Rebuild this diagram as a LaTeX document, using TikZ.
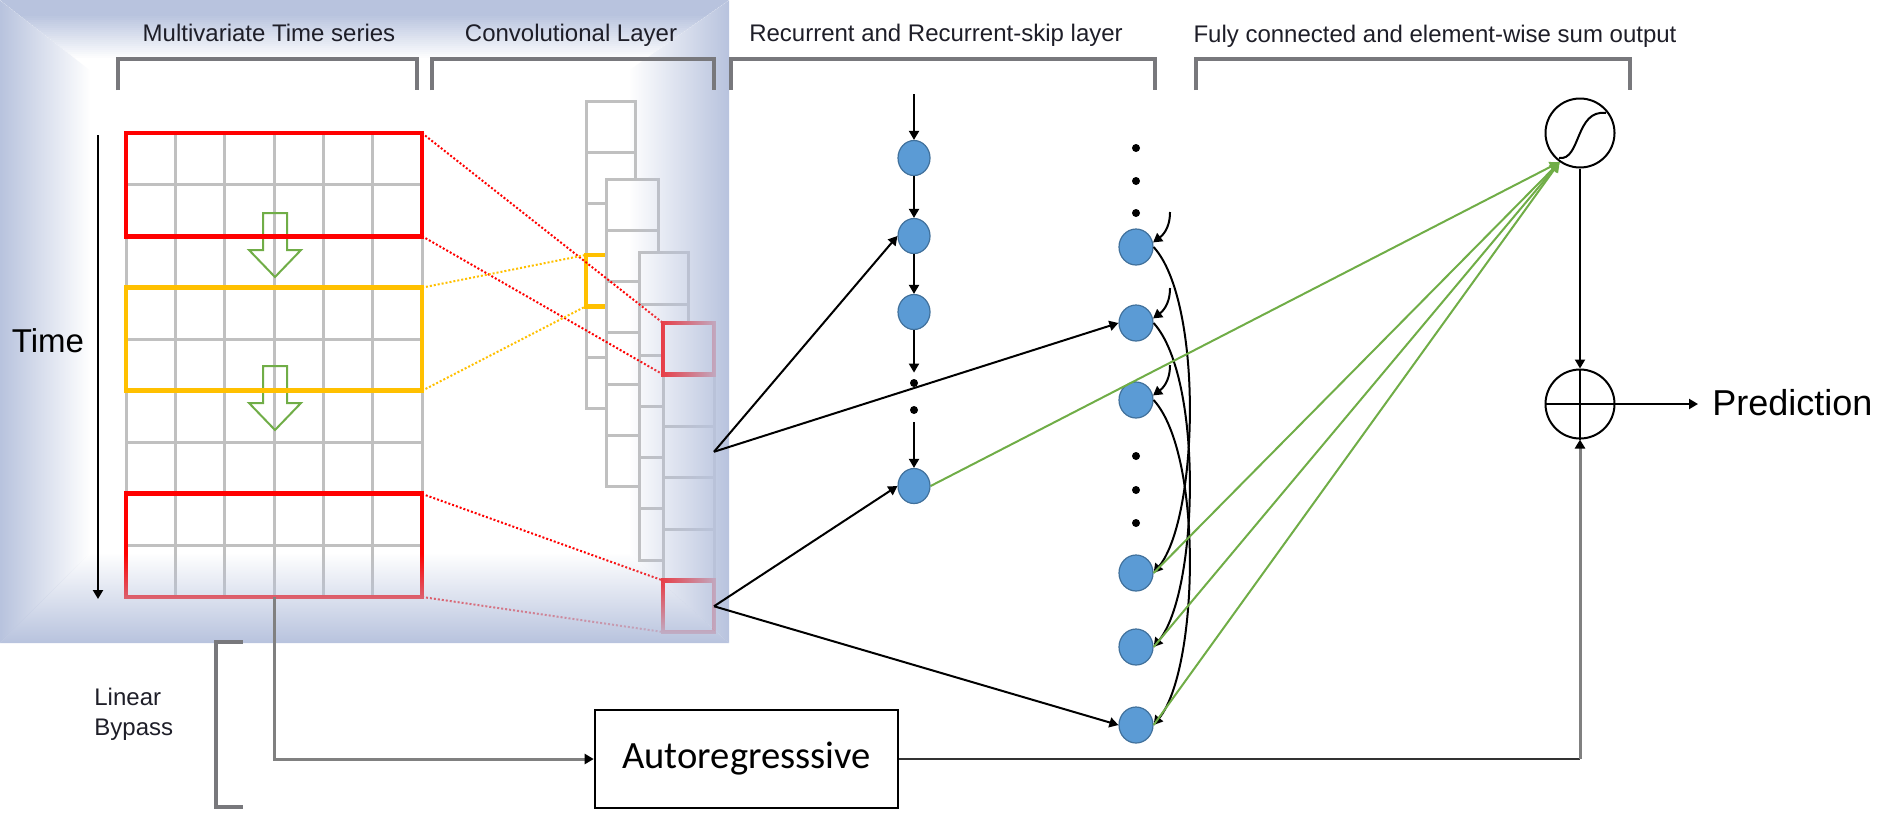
\documentclass[tikz,border=0pt]{standalone}
\usepackage{fontspec}
\setmainfont{Liberation Sans}
\newfontfamily\calib{Carlito}
\usetikzlibrary{arrows.meta,shapes.geometric,fadings}
\definecolor{panel}{RGB}{184,195,222}
\definecolor{gridgray}{RGB}{192,192,192}
\definecolor{ygold}{RGB}{255,192,0}
\definecolor{gline}{RGB}{112,173,71}
\definecolor{nfill}{RGB}{91,155,213}
\definecolor{nline}{RGB}{65,113,156}
\definecolor{brgray}{RGB}{120,120,124}
\definecolor{txt}{RGB}{30,30,40}
\definecolor{redc}{RGB}{255,0,0}
\tikzfading[name=fadeR, left color=transparent!0, right color=transparent!100]
\tikzfading[name=fadeL, left color=transparent!100, right color=transparent!0]
\tikzfading[name=fadeU, top color=transparent!100, bottom color=transparent!0]
\tikzset{
  gridline/.style={draw=gridgray, line width=1.5pt},
  cellbox/.style={rectangle, draw=gridgray, fill=white, line width=1.5pt, inner sep=0pt, outer sep=0pt, minimum width=24.5pt, minimum height=25.65pt},
  winbox/.style={rectangle, line width=2.4pt, inner sep=0pt, outer sep=0pt, minimum width=148pt, minimum height=51.55pt},
  blockarrow/.style={draw=gline, line width=1pt},
  dotline/.style={line width=1pt, densely dotted},
  bracket/.style={draw=brgray, line width=2pt},
  head/.style={font=\fontsize{12}{14}\selectfont, text=txt, anchor=base, inner sep=0pt},
  rnode/.style={ellipse, fill=nfill, draw=nline, line width=0.6pt, inner sep=0pt, minimum width=16pt, minimum height=17.5pt},
  snode/.style={ellipse, fill=nfill, draw=nline, line width=0.6pt, inner sep=0pt, minimum width=17pt, minimum height=18pt},
  bdot/.style={circle, fill=black, inner sep=0pt, minimum size=4pt},
  arr/.style={draw=black, line width=1pt, -{Triangle[length=4.5pt,width=5pt]}},
  garr/.style={draw=gline, line width=1pt, -{Triangle[length=5pt,width=5pt]}},
  opnode/.style={circle, draw=black, line width=1pt, inner sep=0pt, minimum size=34.5pt},
}
\begin{document}
\begin{tikzpicture}[x=0.5pt,y=-0.5pt]
\useasboundingbox (0,0) rectangle (1883,831);
% panel base
\fill[white] (0,0) rectangle (729,643);
% top bevel strip drawn as bands (nothing lies under it)
\foreach \k in {0,...,34} {
  \pgfmathsetmacro\ya{2*\k}
  \pgfmathsetmacro\yb{2*\k+2.6}
  \pgfmathsetmacro\p{max(0,min(100,100*(58-2*\k)/44))}
  \fill[panel!\p!white] ({90*\ya/70},\ya) -- ({729-100*\ya/70},\ya) -- ({729-100*\yb/70},\yb) -- ({90*\yb/70},\yb) -- cycle;
}
% multivariate grid
\foreach \i in {0,...,6} \draw[gridline] ({126+\i*49.333},133) -- ({126+\i*49.333},597);
\foreach \j in {0,...,9} \draw[gridline] (126,{133+\j*51.556}) -- (422,{133+\j*51.556});
% green block arrows
\draw[blockarrow] (263,213) -- (287,213) -- (287,250) -- (301,250) -- (275,277) -- (249,250) -- (263,250) -- cycle;
\draw[blockarrow] (263,366) -- (287,366) -- (287,403) -- (301,403) -- (275,430) -- (249,403) -- (263,403) -- cycle;
% windows
\node[winbox, draw=redc] (w1) at (274,184.6) {};
\node[winbox, draw=ygold] (yw) at (274,339.2) {};
\node[winbox, draw=redc] (w2) at (274,545.4) {};
% convolutional columns
\foreach \i in {0,...,5} \node[cellbox] (a\i) at (610.5,{101+51.3*(\i+0.5)}) {};
\node[cellbox, fill=none, draw=ygold, line width=2.4pt] (ya) at (a3) {};
\foreach \i in {0,...,5} \node[cellbox, minimum width=26pt] (b\i) at (632,{179+51.3*(\i+0.5)}) {};
\foreach \i in {0,...,5} \node[cellbox] (c\i) at (664,{253+51.2*(\i+0.5)}) {};
\foreach \i in {0,...,5} \node[cellbox, minimum width=25.5pt, minimum height=25.75pt] (d\i) at (688.5,{323+51.5*(\i+0.5)}) {};
\draw[redc, line width=2.4pt] (d0.north west) rectangle (d0.south east);
\draw[redc, line width=2.4pt] (d5.north west) rectangle (d5.south east);
% dotted projections
\draw[dotline, redc] (w1.north east) -- (d0.north west);
\draw[dotline, redc] (w1.south east) -- (d0.south west);
\draw[dotline, ygold] (yw.north east) -- (ya.north west);
\draw[dotline, ygold] (yw.south east) -- (ya.south west);
\draw[dotline, redc] (w2.north east) -- (d5.north west);
\draw[dotline, redc] (w2.south east) -- (d5.south west);
% bevel overlay
\fill[panel, path fading=fadeR] (0,0) -- (90,70) -- (90,553) -- (0,643) -- cycle;
\fill[panel, path fading=fadeL] (729,0) -- (729,643) -- (629,553) -- (629,70) -- cycle;
\fill[panel, path fading=fadeU] (0,643) -- (90,553) -- (629,553) -- (729,643) -- cycle;
% brackets
\draw[bracket] (118,90) -- (118,59) -- (417,59) -- (417,90);
\draw[bracket] (432,90) -- (432,59) -- (714,59) -- (714,90);
\draw[bracket] (731,90) -- (731,59) -- (1155,59) -- (1155,90);
\draw[bracket] (1196,90) -- (1196,59) -- (1630,59) -- (1630,90);
\draw[bracket] (243,642) -- (216,642) -- (216,807) -- (243,807);
% headers
\node[head] (h1) at (269,41) {Multivariate Time series};
\node[head] (h2) at (571,41) {Convolutional Layer};
\node[head] (h3) at (936,41) {Recurrent and Recurrent-skip layer};
\node[head] (h4) at (1435,42) {Fuly connected and element-wise sum output};
% time axis
\node[font=\fontsize{16.5}{18}\selectfont, anchor=base, inner sep=0pt] (tl) at (48,352) {Time};
\coordinate (t0) at (98,135);
\coordinate (t1) at (98,599);
\draw[arr] (t0) -- (t1);
% recurrent column
\node[rnode] (n1) at (914,158) {};
\node[rnode] (n2) at (914,236) {};
\node[rnode] (n3) at (914,312) {};
\node[bdot] (da) at (914,383) {};
\node[bdot] (db) at (914,410) {};
\node[rnode] (n4) at (914,486) {};
\coordinate (ntop) at (914,94);
\draw[arr] (ntop) -- (n1);
\draw[arr] (n1) -- (n2);
\draw[arr] (n2) -- (n3);
\draw[arr, shorten >=3pt] (n3) -- (da);
\draw[arr, shorten <=4pt] (db) -- (n4);
% skip column
\foreach \y/\nm in {148/e1,181/e2,213/e3,456/e4,490/e5,523/e6} \node[bdot] (\nm) at (1136,\y) {};
\foreach \y/\nm in {247/s1,323/s2,400/s3,573/s4,647/s5,725/s6} \node[snode] (\nm) at (1136,\y) {};
\foreach \nm/\y in {s1/247,s2/323,s3/400} {
  \coordinate (\nm i) at (1170,{\y-35});
  \draw[arr] (\nm i) .. controls +(0,18) and +(8,-6) .. (\nm.15);
}
\draw[arr] (s1.east) .. controls +(50,55) and +(45,-55) .. (s4.east);
\draw[arr] (s2.east) .. controls +(50,55) and +(45,-55) .. (s5.east);
\draw[arr] (s3.east) .. controls +(50,55) and +(45,-55) .. (s6.east);
% conv -> recurrent
\draw[arr] (d2.east) -- (n2.west);
\draw[arr] (d2.east) -- (s2.west);
\draw[arr] (d5.east) -- (n4.west);
\draw[arr] (d5.east) -- (s6.west);
% output
\node[opnode] (sig) at (1580,133) {};
\draw[line width=1pt] (1559,158) .. controls (1581,161) and (1575,109) .. (1606,113);
\coordinate (sigin) at (sig.235);
\draw[garr] (n4.east) -- (sigin);
\draw[garr] (s4.east) -- (sigin);
\draw[garr] (s5.east) -- (sigin);
\draw[garr] (s6.east) -- (sigin);
\node[opnode] (sumn) at (1580,404) {};
\draw[line width=1pt] (sumn.north) -- (sumn.south);
\draw[line width=1pt] (sumn.west) -- (sumn.east);
\draw[arr] (sig.south) -- (sumn.north);
\node[font=\fontsize{18}{20}\selectfont, anchor=base west, inner sep=0pt] (pred) at (1712,415) {Prediction};
\draw[arr] (sumn.east) -- ([xshift=-7pt]sumn.east -| pred.west);
% autoregressive bypass
\node[draw=black, line width=1.3pt, minimum width=151.5pt, minimum height=49pt, inner sep=0pt, font=\calib\fontsize{19.3}{22}\selectfont] (ar) at (746.5,759) {Autoregresssive};
\node[anchor=base west, inner sep=0pt, font=\fontsize{12}{14}\selectfont, text=txt] (lb1) at (94,705) {Linear};
\node[anchor=base west, inner sep=0pt, font=\fontsize{12}{14}\selectfont, text=txt] (lb2) at (94,735) {Bypass};
\draw[line width=1.5pt, draw=gray, -{Triangle[length=4.5pt,width=5pt,color=black]}] (w2.south) |- (ar.west);
\coordinate (arc) at (sumn.south |- ar.east);
\draw[line width=1.3pt, draw=black!80] (ar.east) -- (arc);
\draw[line width=1.5pt, draw=gray, -{Triangle[length=4.5pt,width=5pt,color=black]}] (arc) -- (sumn.south);
\end{tikzpicture}
\end{document}
